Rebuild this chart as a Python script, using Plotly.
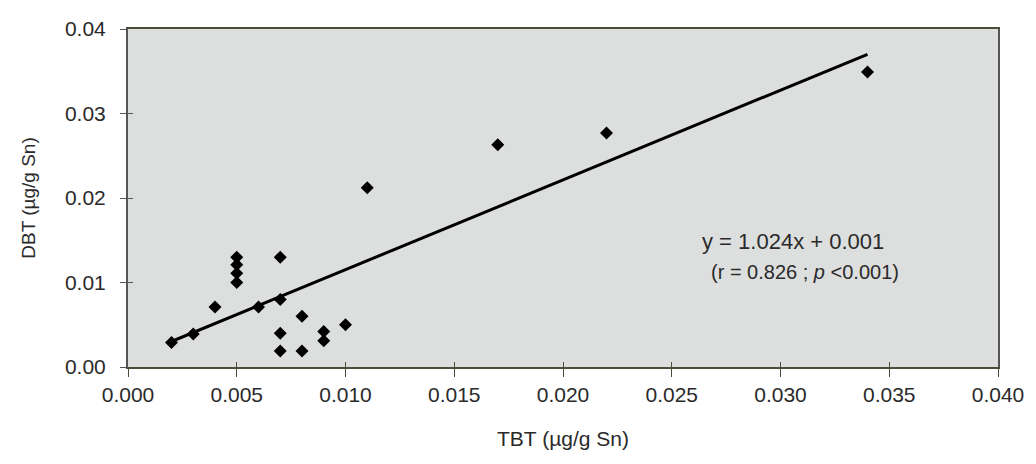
import plotly.graph_objects as go

# TBT (x) and DBT (y) values, µg/g Sn
tbt = [0.002, 0.003, 0.004, 0.005, 0.005, 0.005, 0.005, 0.006, 0.007, 0.007,
       0.007, 0.007, 0.008, 0.008, 0.009, 0.009, 0.010, 0.011, 0.017, 0.022, 0.034]
dbt = [0.0029, 0.0039, 0.0071, 0.0130, 0.0121, 0.0111, 0.0100, 0.0071, 0.0130, 0.0080,
       0.0040, 0.0019, 0.0060, 0.0019, 0.0042, 0.0031, 0.0050, 0.0212, 0.0263, 0.0277, 0.0349]

# drawn trend line (as it appears in the picture)
trend_slope = 1.062
trend_intercept = 0.0009
trend_x = [0.0018, 0.034]
trend_y = [trend_slope * v + trend_intercept for v in trend_x]

x_ticks = [0.000, 0.005, 0.010, 0.015, 0.020, 0.025, 0.030, 0.035, 0.040]
x_tick_text = ["0.000", "0.005", "0.010", "0.015", "0.020", "0.025", "0.030", "0.035", "0.040"]
y_ticks = [0.00, 0.01, 0.02, 0.03, 0.04]
y_tick_text = ["0.00", "0.01", "0.02", "0.03", "0.04"]

FONT = "Liberation Sans, Arial, sans-serif"
TXT = "#2a2a2a"

fig = go.Figure()
fig.add_trace(go.Scatter(
    x=trend_x, y=trend_y, mode="lines",
    line=dict(color="black", width=3), showlegend=False, hoverinfo="skip"))
fig.add_trace(go.Scatter(
    x=tbt, y=dbt, mode="markers",
    marker=dict(symbol="diamond", size=10, color="black", line=dict(width=0)),
    showlegend=False))
# invisible trace so the overlay axes (inner half of the cross ticks) are drawn
fig.add_trace(go.Scatter(x=[None], y=[None], xaxis="x2", yaxis="y2",
                         showlegend=False, hoverinfo="skip"))

fig.add_annotation(x=0.0263, y=0.0149, xref="x", yref="y", xanchor="left", yanchor="middle",
                   text="y = 1.024x + 0.001", showarrow=False,
                   font=dict(family=FONT, size=22, color=TXT))
fig.add_annotation(x=0.0267, y=0.0113, xref="x", yref="y", xanchor="left", yanchor="middle",
                   text="(r = 0.826 ; <i>p</i> <0.001)", showarrow=False,
                   font=dict(family=FONT, size=20, color=TXT))

fig.update_layout(
    width=1036, height=464,
    margin=dict(l=128, r=35, t=29, b=97),
    paper_bgcolor="white",
    plot_bgcolor="#dddfde",
    font=dict(family=FONT, size=20, color=TXT),
    xaxis=dict(
        range=[0, 0.040], tickmode="array", tickvals=x_ticks, ticktext=x_tick_text,
        showgrid=False, zeroline=False, showline=True, linecolor="#4c4c38", linewidth=2,
        mirror=True, ticks="outside", ticklen=8, tickcolor="#4c4c38", tickwidth=1,
        title=dict(text="TBT (µg/g Sn)", font=dict(size=21), standoff=26),
        tickfont=dict(size=21),
    ),
    yaxis=dict(
        range=[0, 0.040], tickmode="array", tickvals=y_ticks, ticktext=y_tick_text,
        showgrid=False, zeroline=False, showline=True, linecolor="#555", linewidth=2,
        mirror=True, ticks="outside", ticklen=6, tickcolor="#555", tickwidth=1,
        ticklabelstandoff=10,
        title=dict(text="DBT (µg/g Sn)", font=dict(size=19), standoff=24),
        tickfont=dict(size=21),
    ),
    xaxis2=dict(
        range=[0, 0.040], tickmode="array", tickvals=x_ticks, overlaying="x",
        showgrid=False, zeroline=False, showline=False, showticklabels=False,
        ticks="inside", ticklen=5, tickcolor="#4c4c38", tickwidth=1, side="bottom",
    ),
    yaxis2=dict(
        range=[0, 0.040], tickmode="array", tickvals=y_ticks, overlaying="y",
        showgrid=False, zeroline=False, showline=False, showticklabels=False,
        ticks="inside", ticklen=5, tickcolor="#555", tickwidth=1, side="left",
    ),
)

fig.write_html("out.html")
